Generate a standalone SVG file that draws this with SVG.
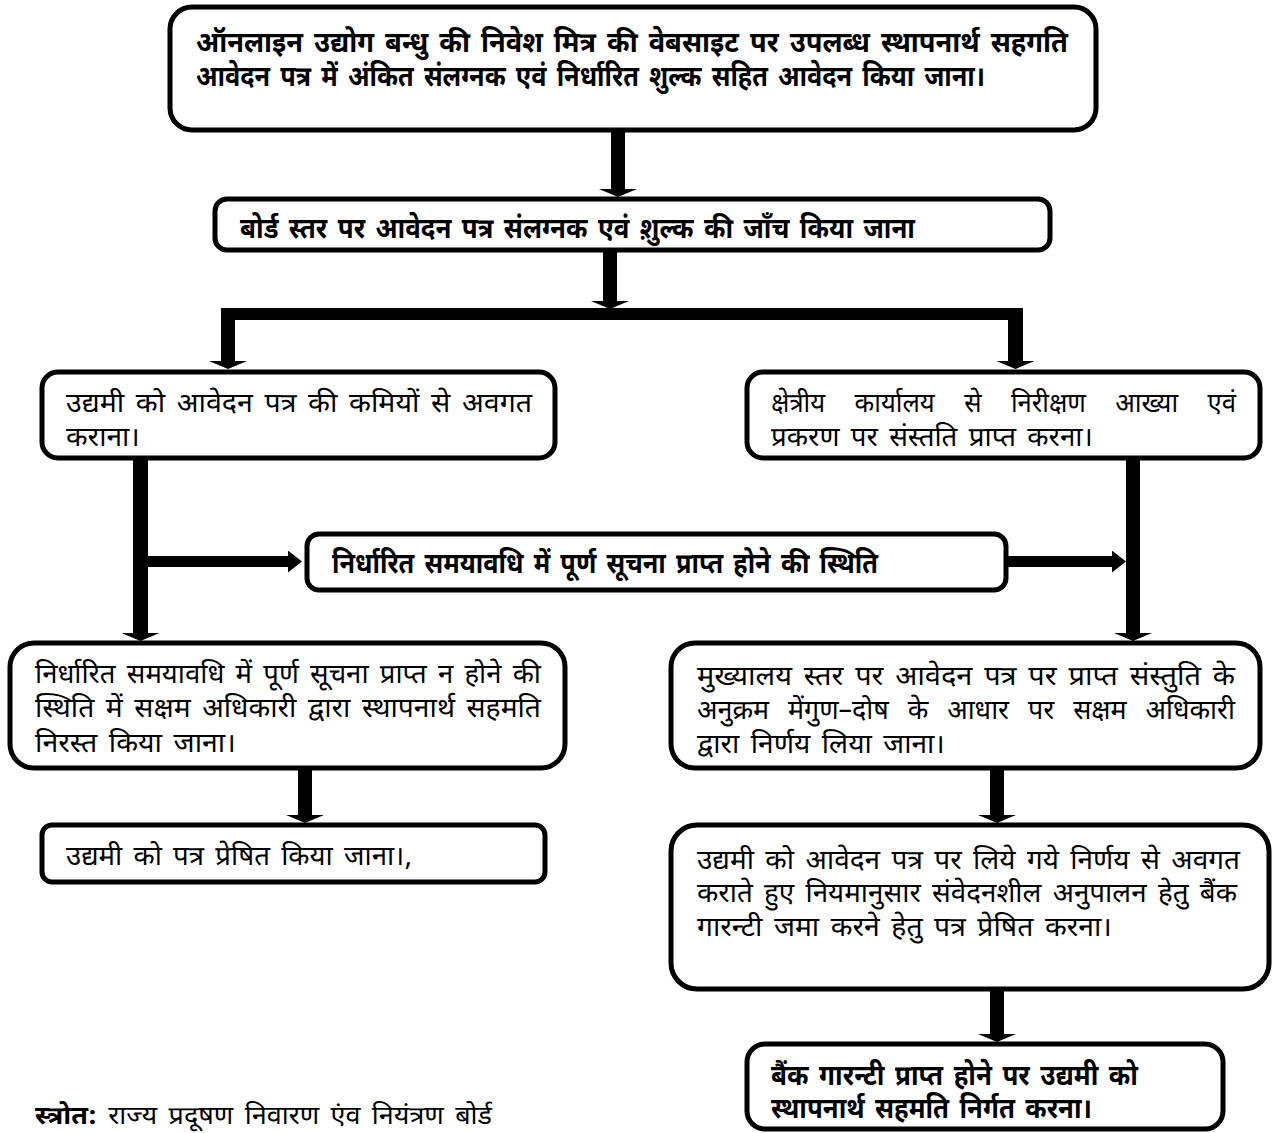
<svg xmlns="http://www.w3.org/2000/svg" width="1278" height="1133" viewBox="0 0 1278 1133">
<style>
.box{fill:#fff;stroke:#000;stroke-width:5}
.t{font-family:"Noto Sans Devanagari","Lohit Devanagari","FreeSans","Noto Sans",sans-serif;font-size:27px;fill:#000;word-spacing:4px}
.c{font-weight:bold;font-size:28px}
.s{font-size:25px}
.con{fill:none;stroke:#000;stroke-linejoin:miter}
</style>
<defs>
<marker id="ad" viewBox="0 0 8 38" refX="0" refY="19" markerWidth="8" markerHeight="38" markerUnits="userSpaceOnUse" orient="auto"><path d="M0,0 L8,19 L0,38 Z" fill="#000"/></marker>
<marker id="as" viewBox="0 0 14 22" refX="0" refY="11" markerWidth="14" markerHeight="22" markerUnits="userSpaceOnUse" orient="auto"><path d="M0,0 L14,11 L0,22 Z" fill="#000"/></marker>
</defs>
<g id="connectors">
<path class="con" stroke-width="14" d="M618,132 V189" marker-end="url(#ad)"/>
<path class="con" stroke-width="14" d="M610,252 V301" marker-end="url(#ad)"/>
<path class="con" stroke-width="12" d="M221.5,314 H1022.5"/>
<path class="con" stroke-width="14" d="M228,308 V361" marker-end="url(#ad)"/>
<path class="con" stroke-width="15" d="M1015.5,308 V361" marker-end="url(#ad)"/>
<path class="con" stroke-width="15" d="M140.5,460 V633" marker-end="url(#ad)"/>
<path class="con" stroke-width="11" d="M148,561.5 H288" marker-end="url(#as)"/>
<path class="con" stroke-width="14" d="M1133,460 V633" marker-end="url(#ad)"/>
<path class="con" stroke-width="11" d="M1008,561.5 H1112" marker-end="url(#as)"/>
<path class="con" stroke-width="14" d="M305,770 V815" marker-end="url(#ad)"/>
<path class="con" stroke-width="14" d="M997,770 V815" marker-end="url(#ad)"/>
<path class="con" stroke-width="14" d="M997,991 V1034" marker-end="url(#ad)"/>
</g>
<g id="n1">
<rect class="box" x="170" y="7" width="926" height="123" rx="22"/>
<text class="t c" x="196" y="52" textLength="872" lengthAdjust="spacingAndGlyphs">ऑनलाइन उद्योग बन्धु की निवेश मित्र की वेबसाइट पर उपलब्ध स्थापनार्थ सहगति</text>
<text class="t c" x="196" y="86" textLength="789" lengthAdjust="spacingAndGlyphs">आवेदन पत्र में अंकित संलग्नक एवं निर्धारित शुल्क सहित आवेदन किया जाना।</text>
</g>
<g id="n2">
<rect class="box" x="215" y="199" width="835" height="51" rx="12"/>
<text class="t c" x="240" y="238" textLength="675" lengthAdjust="spacingAndGlyphs">बोर्ड स्तर पर आवेदन पत्र संलग्नक एवं श़ुल्क की जाँच किया जाना</text>
</g>
<g id="n3">
<rect class="box" x="42" y="372" width="513" height="86" rx="16"/>
<text class="t" x="66" y="412" textLength="466" lengthAdjust="spacingAndGlyphs">उद्यमी को आवेदन पत्र की कमियों से अवगत</text>
<text class="t" x="66" y="446" textLength="74" lengthAdjust="spacingAndGlyphs">कराना।</text>
</g>
<g id="n4">
<rect class="box" x="747" y="372" width="513" height="86" rx="16"/>
<text class="t" x="771" y="412" textLength="465" lengthAdjust="spacingAndGlyphs" style="word-spacing:24px">क्षेत्रीय कार्यालय से निरीक्षण आख्या एवं</text>
<text class="t" x="771" y="446" textLength="322" lengthAdjust="spacingAndGlyphs">प्रकरण पर संस्तति प्राप्त करना।</text>
</g>
<g id="n5">
<rect class="box" x="307" y="534" width="699" height="56" rx="12"/>
<text class="t c" x="332" y="573" textLength="546" lengthAdjust="spacingAndGlyphs">निर्धारित समयावधि में पूर्ण सूचना प्राप्त होने की स्थिति</text>
</g>
<g id="n6">
<rect class="box" x="10" y="643" width="555" height="125" rx="24"/>
<text class="t" x="35" y="683" textLength="506" lengthAdjust="spacingAndGlyphs">निर्धारित समयावधि में पूर्ण सूचना प्राप्त न होने की</text>
<text class="t" x="35" y="717" textLength="506" lengthAdjust="spacingAndGlyphs">स्थिति में सक्षम अधिकारी द्वारा स्थापनार्थ सहमति</text>
<text class="t" x="35" y="752" textLength="201" lengthAdjust="spacingAndGlyphs">निरस्त किया जाना।</text>
</g>
<g id="n7">
<rect class="box" x="671" y="643" width="589" height="125" rx="24"/>
<text class="t" x="697" y="685" textLength="538" lengthAdjust="spacingAndGlyphs">मुख्यालय स्तर पर आवेदन पत्र पर प्राप्त संस्तुति के</text>
<text class="t" x="697" y="719" textLength="538" lengthAdjust="spacingAndGlyphs" style="word-spacing:12px">अनुक्रम मेंगुण–दोष के आधार पर सक्षम अधिकारी</text>
<text class="t" x="697" y="753" textLength="248" lengthAdjust="spacingAndGlyphs">द्वारा निर्णय लिया जाना।</text>
</g>
<g id="n8">
<rect class="box" x="42" y="825" width="503" height="57" rx="10"/>
<text class="t" x="66" y="865" textLength="346" lengthAdjust="spacingAndGlyphs">उद्यमी को पत्र प्रेषित किया जाना।,</text>
</g>
<g id="n9">
<rect class="box" x="671" y="825" width="598" height="164" rx="26"/>
<text class="t" x="697" y="869" textLength="543" lengthAdjust="spacingAndGlyphs">उद्यमी को आवेदन पत्र पर लिये गये निर्णय से अवगत</text>
<text class="t" x="697" y="902" textLength="540" lengthAdjust="spacingAndGlyphs">कराते हुए नियमानुसार संवेदनशील अनुपालन हेतु बैंक</text>
<text class="t" x="697" y="936" textLength="415" lengthAdjust="spacingAndGlyphs">गारन्टी जमा करने हेतु पत्र प्रेषित करना।</text>
</g>
<g id="n10">
<rect class="box" x="747" y="1044" width="476" height="85" rx="18"/>
<text class="t c" x="771" y="1085" textLength="367" lengthAdjust="spacingAndGlyphs">बैंक गारन्टी प्राप्त होने पर उद्यमी को</text>
<text class="t c" x="771" y="1118" textLength="321" lengthAdjust="spacingAndGlyphs">स्थापनार्थ सहमति निर्गत करना।</text>
</g>
<g id="source">
<text class="t s" x="35" y="1124" textLength="457" lengthAdjust="spacingAndGlyphs"><tspan font-weight="bold">स्त्रोत:</tspan> राज्य प्रदूषण निवारण एंव नियंत्रण बोर्ड</text>
</g>
</svg>
